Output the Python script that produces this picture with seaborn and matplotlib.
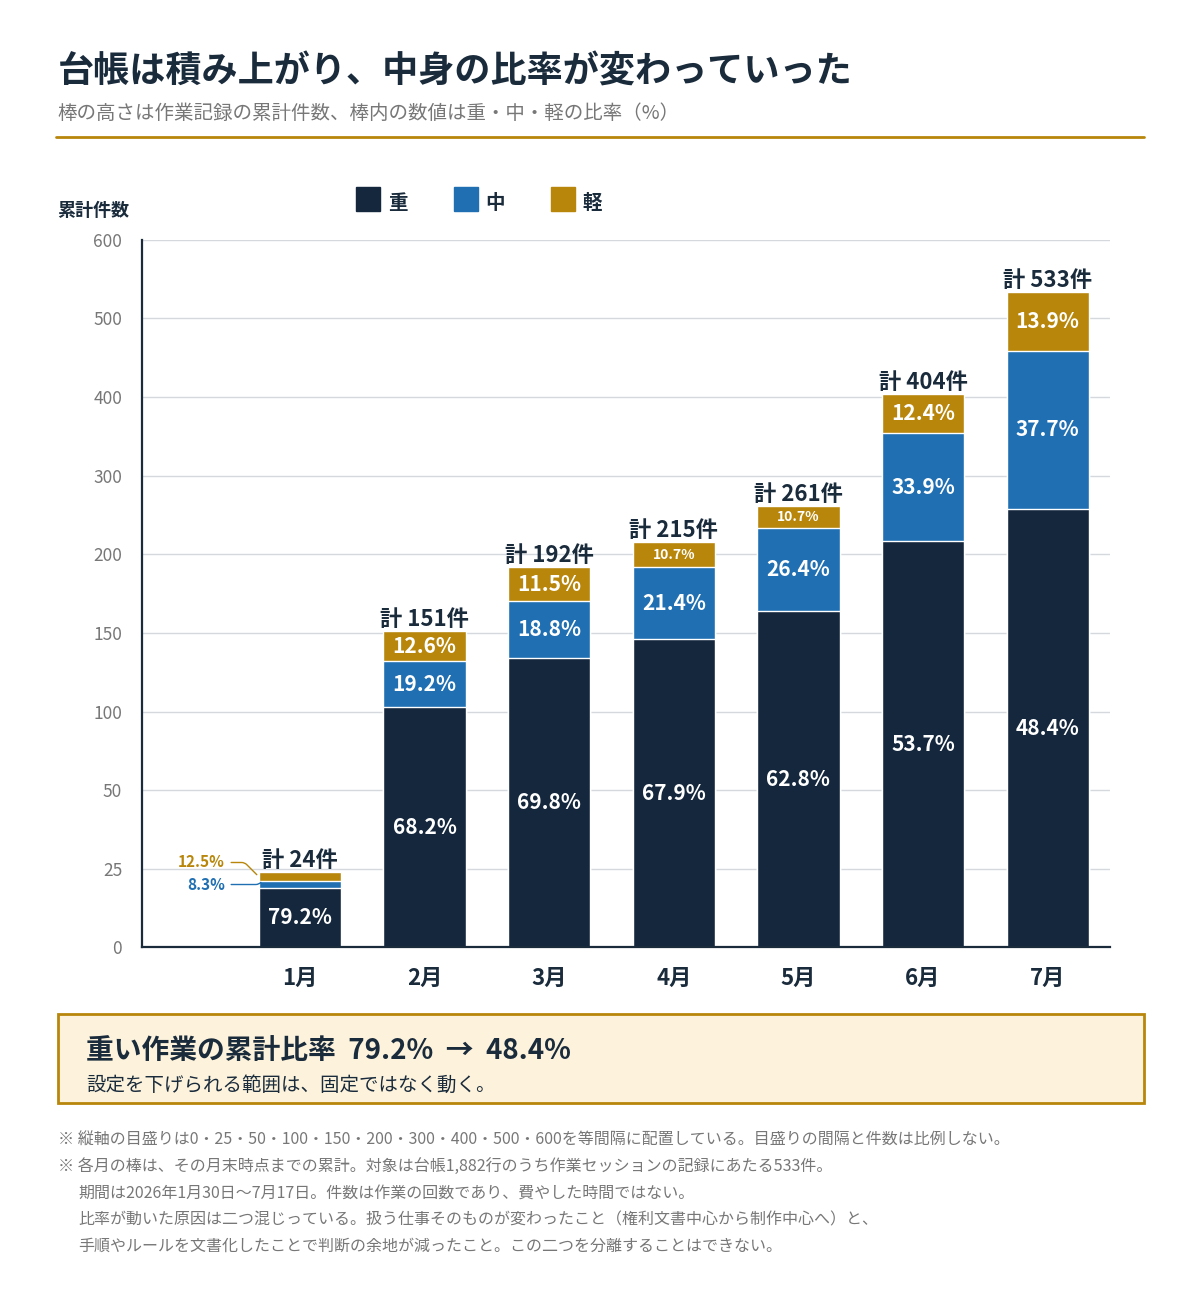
import matplotlib
matplotlib.use("Agg")
import matplotlib.pyplot as plt
from matplotlib.patches import Rectangle
import numpy as np
import pandas as pd
import seaborn as sns

MONTHS = ["1月", "2月", "3月", "4月", "5月", "6月", "7月"]
TOTALS = [24, 151, 192, 215, 261, 404, 533]
HEAVY_PCT = [79.2, 68.2, 69.8, 67.9, 62.8, 53.7, 48.4]
MID_PCT = [8.3, 19.2, 18.8, 21.4, 26.4, 33.9, 37.7]
LIGHT_PCT = [12.5, 12.6, 11.5, 10.7, 10.7, 12.4, 13.9]
YTICKS = [0, 25, 50, 100, 150, 200, 300, 400, 500, 600]

C_HEAVY = "#14273d"
C_MID = "#1f6fb2"
C_LIGHT = "#b8860b"
GOLD = "#b8860b"
INK = "#1a2b3c"
GRAY = "#777777"

sns.set_theme(style="white")
plt.rcParams["font.family"] = ["Noto Sans CJK JP", "DejaVu Sans"]

df = pd.DataFrame({"month": MONTHS, "total": TOTALS,
                   "heavy": HEAVY_PCT, "mid": MID_PCT, "light": LIGHT_PCT})
df["h"] = df["total"] * df["heavy"] / 100
df["m"] = df["total"] * df["mid"] / 100
df["hm"] = df["h"] + df["m"]

idx = np.arange(len(YTICKS), dtype=float)
fwd = lambda v: np.interp(v, YTICKS, idx)
inv = lambda v: np.interp(v, idx, YTICKS)

fig = plt.figure(figsize=(12, 12.89), dpi=100)
ax = fig.add_axes([0.118, 0.265, 0.807, 0.549])
ax.set_yscale("function", functions=(fwd, inv))

W = 0.66
sns.barplot(data=df, x="month", y="total", color=C_LIGHT, width=W, ax=ax, saturation=1)
sns.barplot(data=df, x="month", y="hm", color=C_MID, width=W, ax=ax, saturation=1)
sns.barplot(data=df, x="month", y="h", color=C_HEAVY, width=W, ax=ax, saturation=1)

ax.set_ylim(0, 600)
ax.set_xlim(-1.27, 6.5)
ax.set_yticks(YTICKS)
ax.set_yticklabels([str(t) for t in YTICKS], color=GRAY, fontsize=12.5)
ax.tick_params(axis="y", length=0, pad=14)
ax.tick_params(axis="x", length=0, pad=14)
for t in ax.get_xticklabels():
    t.set_fontsize(16); t.set_fontweight("bold"); t.set_color(INK)
ax.set_xlabel(""); ax.set_ylabel("")
ax.grid(axis="y", color="#d5d9de", lw=1)
ax.set_axisbelow(True)
for s in ["top", "right"]:
    ax.spines[s].set_visible(False)
for s in ["left", "bottom"]:
    ax.spines[s].set_color(INK); ax.spines[s].set_linewidth(1.6)

def mid_of(a, b):
    return inv((fwd(a) + fwd(b)) / 2)

for i, r in df.iterrows():
    tot, h, hm = r["total"], r["h"], r["hm"]
    ax.text(i, tot, f"計 {tot}件", ha="center", va="bottom", fontsize=16,
            fontweight="bold", color=INK)
    ax.text(i, mid_of(0, h), f"{r['heavy']:.1f}%", ha="center", va="center",
            fontsize=15, fontweight="bold", color="white")
    if i == 0:
        ax.annotate(f"{r['mid']:.1f}%", xy=(i - W / 2, mid_of(h, hm)), xytext=(-0.6, 20),
                    ha="right", va="center", fontsize=11, fontweight="bold", color=C_MID,
                    arrowprops=dict(arrowstyle="-", color=C_MID, lw=1,
                                    connectionstyle="angle,angleA=0,angleB=45,rad=3"))
        ax.annotate(f"{r['light']:.1f}%", xy=(i - W / 2, mid_of(hm, tot)), xytext=(-0.6, 27),
                    ha="right", va="center", fontsize=11, fontweight="bold", color=C_LIGHT,
                    arrowprops=dict(arrowstyle="-", color=C_LIGHT, lw=1,
                                    connectionstyle="angle,angleA=0,angleB=-45,rad=3"))
        continue
    small_m = fwd(hm) - fwd(h) < 0.4
    ax.text(i, mid_of(h, hm), f"{r['mid']:.1f}%", ha="center", va="center",
            fontsize=10 if small_m else 15, fontweight="bold", color="white")
    small_l = fwd(tot) - fwd(hm) < 0.35
    ax.text(i, mid_of(hm, tot), f"{r['light']:.1f}%", ha="center", va="center",
            fontsize=10 if small_l else 15, fontweight="bold", color="white")

# header
fig.text(0.048, 0.944, "台帳は積み上がり、中身の比率が変わっていった", fontsize=26,
         fontweight="bold", color=INK, va="center")
fig.text(0.048, 0.912, "棒の高さは作業記録の累計件数、棒内の数値は重・中・軽の比率（%）",
         fontsize=14, color=GRAY, va="center")
fig.add_artist(plt.Line2D([0.047, 0.953], [0.894, 0.894], color=GOLD, lw=2))
fig.text(0.048, 0.837, "累計件数", fontsize=13, fontweight="bold", color=INK, va="center")

# legend
for x0, lab, c in [(0.297, "重", C_HEAVY), (0.378, "中", C_MID), (0.459, "軽", C_LIGHT)]:
    fig.add_artist(Rectangle((x0, 0.836), 0.02, 0.0186, transform=fig.transFigure,
                             color=c))
    fig.text(x0 + 0.026, 0.842, lab, fontsize=14, fontweight="bold", color=INK, va="center")

# summary box
fig.add_artist(Rectangle((0.048, 0.144), 0.905, 0.069, transform=fig.transFigure,
                         facecolor="#fdf3dc", edgecolor=GOLD, lw=2))
fig.text(0.072, 0.185, "重い作業の累計比率  79.2%  →  48.4%", fontsize=20,
         fontweight="bold", color=INK, va="center")
fig.text(0.072, 0.158, "設定を下げられる範囲は、固定ではなく動く。", fontsize=14,
         color=INK, va="center")

notes = [
    (0.048, "※ 縦軸の目盛りは0・25・50・100・150・200・300・400・500・600を等間隔に配置している。目盛りの間隔と件数は比例しない。"),
    (0.048, "※ 各月の棒は、その月末時点までの累計。対象は台帳1,882行のうち作業セッションの記録にあたる533件。"),
    (0.065, "期間は2026年1月30日〜7月17日。件数は作業の回数であり、費やした時間ではない。"),
    (0.065, "比率が動いた原因は二つ混じっている。扱う仕事そのものが変わったこと（権利文書中心から制作中心へ）と、"),
    (0.065, "手順やルールを文書化したことで判断の余地が減ったこと。この二つを分離することはできない。"),
]
for k, (x, s) in enumerate(notes):
    fig.text(x, 0.115 - k * 0.0205, s, fontsize=11.5, color=GRAY, va="center")

fig.savefig("out.png", dpi=100)
